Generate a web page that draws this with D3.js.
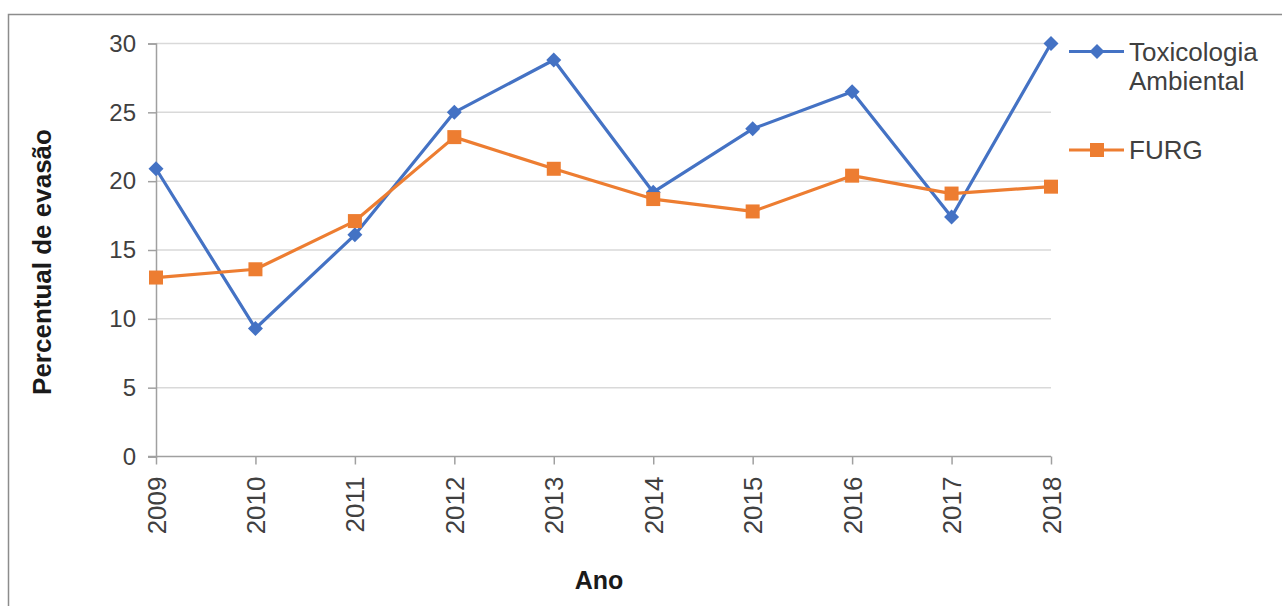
<!DOCTYPE html>
<html>
<head>
<meta charset="utf-8">
<script src="https://cdn.jsdelivr.net/npm/d3@7"></script>
<style>
  body { margin: 0; background: #fff; }
  svg { display: block; }
</style>
</head>
<body>
<div id="chart"></div>
<script>
var years = [2009, 2010, 2011, 2012, 2013, 2014, 2015, 2016, 2017, 2018];
var toxicologia = [20.9, 9.3, 16.1, 25.0, 28.8, 19.2, 23.8, 26.5, 17.4, 30.0];
var furg = [13.0, 13.6, 17.1, 23.2, 20.9, 18.7, 17.8, 20.4, 19.1, 19.6];
var yTicks = [0, 5, 10, 15, 20, 25, 30];

var width = 1282, height = 606;
var plot = { left: 156, right: 1051, top: 43.5, bottom: 456.5 };
var textColor = "#404040";
var blue = "#4472C4", orange = "#ED7D31";

var svg = d3.select("#chart")
  .append("svg")
  .attr("width", width)
  .attr("height", height);

// Outer frame (runs past the right and bottom edges)
svg.append("rect")
  .attr("x", 8.5)
  .attr("y", 14.5)
  .attr("width", 1400)
  .attr("height", 800)
  .style("fill", "none")
  .style("stroke", "#8c8c8c")
  .style("stroke-width", "1.5px");

var x = d3.scalePoint()
  .domain(years)
  .range([plot.left, plot.right]);

var y = d3.scaleLinear()
  .domain([0, 30])
  .range([plot.bottom, plot.top]);

// Gridlines
svg.selectAll("line.grid")
  .data(yTicks.filter(function(d) { return d > 0; }))
  .enter()
  .append("line")
  .attr("class", "grid")
  .attr("x1", plot.left)
  .attr("x2", plot.right)
  .attr("y1", function(d) { return y(d); })
  .attr("y2", function(d) { return y(d); })
  .style("stroke", "#d9d9d9")
  .style("stroke-width", "1.5px");

// Y axis
var yAxis = svg.append("g")
  .attr("transform", "translate(" + plot.left + ",0)")
  .call(d3.axisLeft(y).tickValues(yTicks).tickSize(8).tickPadding(12));

// X axis
var xAxis = svg.append("g")
  .attr("transform", "translate(0," + plot.bottom + ")")
  .call(d3.axisBottom(x).tickSize(8).tickSizeOuter(0).tickFormat(d3.format("d")));

[yAxis, xAxis].forEach(function(ax) {
  ax.select(".domain").style("stroke", "#a0a0a0").style("stroke-width", "1.5px");
  ax.selectAll(".tick line").style("stroke", "#a0a0a0").style("stroke-width", "1.5px");
  ax.selectAll("text")
    .style("fill", textColor)
    .style("font-family", "'Liberation Sans', Arial, sans-serif")
    .style("font-size", "24px");
});

// x axis domain starts at the 0 tick
xAxis.select(".domain").attr("d", "M" + (plot.left - 8) + ",0H" + plot.right);

xAxis.selectAll(".tick text")
  .attr("transform", "rotate(-90)")
  .attr("text-anchor", "end")
  .attr("x", -20)
  .attr("y", 0)
  .attr("dy", "0.35em")
  .style("font-size", "26px");

// Lines and markers
var line = d3.line()
  .x(function(d, i) { return x(years[i]); })
  .y(function(d) { return y(d); });

svg.append("path")
  .datum(toxicologia)
  .attr("d", line)
  .style("fill", "none")
  .style("stroke", blue)
  .style("stroke-width", "3.2px")
  .style("stroke-linejoin", "round");

svg.append("path")
  .datum(furg)
  .attr("d", line)
  .style("fill", "none")
  .style("stroke", orange)
  .style("stroke-width", "3.2px")
  .style("stroke-linejoin", "round");

svg.selectAll("path.diamond")
  .data(toxicologia)
  .enter()
  .append("path")
  .attr("class", "diamond")
  .attr("d", "M0,-7.5L7.5,0L0,7.5L-7.5,0Z")
  .attr("transform", function(d, i) { return "translate(" + x(years[i]) + "," + y(d) + ")"; })
  .style("fill", blue);

svg.selectAll("rect.square")
  .data(furg)
  .enter()
  .append("rect")
  .attr("class", "square")
  .attr("x", function(d, i) { return x(years[i]) - 7; })
  .attr("y", function(d) { return y(d) - 7; })
  .attr("width", 14)
  .attr("height", 14)
  .style("fill", orange);

// Legend
var legend = svg.append("g").attr("transform", "translate(1069,0)");

legend.append("line")
  .attr("x1", 0).attr("x2", 55).attr("y1", 51.5).attr("y2", 51.5)
  .style("stroke", blue).style("stroke-width", "3.2px");
legend.append("path")
  .attr("d", "M0,-7.5L7.5,0L0,7.5L-7.5,0Z")
  .attr("transform", "translate(28,51.5)")
  .style("fill", blue);
legend.append("text")
  .attr("x", 60).attr("y", 61)
  .style("font-family", "'Liberation Sans', Arial, sans-serif")
  .style("font-size", "26px")
  .style("fill", textColor)
  .text("Toxicologia");
legend.append("text")
  .attr("x", 60).attr("y", 90)
  .style("font-family", "'Liberation Sans', Arial, sans-serif")
  .style("font-size", "26px")
  .style("fill", textColor)
  .text("Ambiental");

legend.append("line")
  .attr("x1", 0).attr("x2", 55).attr("y1", 150).attr("y2", 150)
  .style("stroke", orange).style("stroke-width", "3.2px");
legend.append("rect")
  .attr("x", 21).attr("y", 143).attr("width", 14).attr("height", 14)
  .style("fill", orange);
legend.append("text")
  .attr("x", 60).attr("y", 159)
  .style("font-family", "'Liberation Sans', Arial, sans-serif")
  .style("font-size", "26px")
  .style("fill", textColor)
  .text("FURG");

// Axis titles
svg.append("text")
  .attr("transform", "translate(51,262) rotate(-90)")
  .attr("text-anchor", "middle")
  .style("font-family", "'Liberation Sans', Arial, sans-serif")
  .style("font-size", "26px")
  .style("font-weight", "bold")
  .style("fill", "#1a1a1a")
  .text("Percentual de evasão");

svg.append("text")
  .attr("x", 599)
  .attr("y", 589)
  .attr("text-anchor", "middle")
  .style("font-family", "'Liberation Sans', Arial, sans-serif")
  .style("font-size", "25px")
  .style("font-weight", "bold")
  .style("fill", "#1a1a1a")
  .text("Ano");
</script>
</body>
</html>
